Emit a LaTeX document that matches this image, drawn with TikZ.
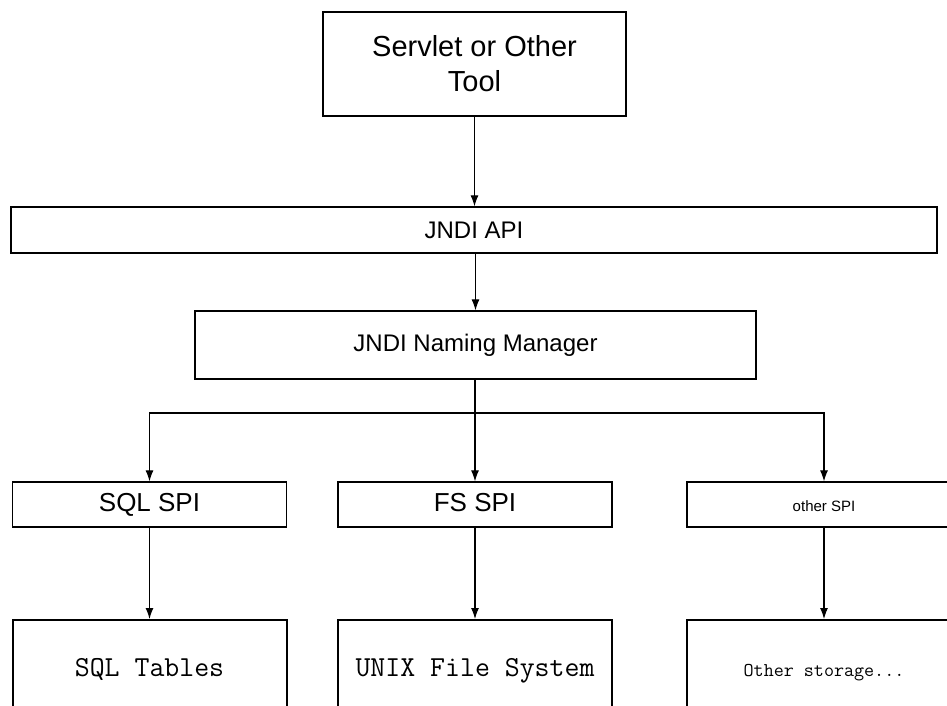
\documentclass[tikz,border=0pt]{standalone}
\usepackage{fontspec}
\setmainfont{Liberation Sans}
\usetikzlibrary{arrows.meta}
\tikzset{
    toolbox/.style={draw, line width=2.6pt, minimum width=303pt, minimum height=104pt,
            align=center, font=\fontsize{29}{35}\selectfont},
    layerbox/.style={draw, line width=1.3pt, font=\fontsize{24}{28}\selectfont},
    spibox/.style={draw, line width=1.3pt, minimum width=274pt, minimum height=45pt,
            text height=18pt, text depth=5pt, font=\fontsize{26}{30}\selectfont},
    storebox/.style={draw, line width=2pt, minimum width=274pt, minimum height=130pt,
            anchor=north, text height=15pt, text depth=33pt,
            font=\ttfamily\fontsize{29}{32}\selectfont},
    link/.style={line width=1.1pt, -{Latex[length=11pt,width=8pt]}}
}

\begin{document}
\begin{tikzpicture}[x=1pt, y=-1pt]
            \useasboundingbox (0, 0) rectangle (947, 705);
            \clip (0, 0) rectangle (947, 705);
            % top level and the two JNDI layers
            \node[toolbox] (tool) at (474.5, 64) {Servlet or Other\\Tool};
            \node[layerbox, minimum width=926pt, minimum height=46pt] (api) at (474, 230) {JNDI API};
            \node[layerbox, minimum width=561pt, minimum height=68pt] (mgr) at (475.5, 345) {JNDI Naming Manager};
            % service providers
            \node[spibox] (sqlspi) at (149.5, 504.5) {SQL SPI};
            \node[spibox] (fsspi) at (475, 504.5) {FS SPI};
            \node[spibox, font=\fontsize{15}{18}\selectfont] (otherspi) at (824, 504.5) {other SPI};
            % storage, cut off at the bottom
            \node[storebox] (sqltab) at (149.5, 619) {SQL Tables};
            \node[storebox] (unixfs) at (475, 619) {UNIX File System};
            \node[storebox, font=\ttfamily\fontsize{19.5}{22}\selectfont] (otherstore) at (824, 619) {Other storage...};
            % connectors
            \draw[link] (tool.south) -- (tool.south |- api.north);
            \draw[link] (api.south -| mgr.north) -- (mgr.north);
            \coordinate (fork) at (475, 413);
            \draw[line width=1.1pt] (mgr.south -| fork) -- (fork);
            \draw[link] (fork) -| (sqlspi.north);
            \draw[link] (fork) -- (fsspi.north);
            \draw[link] (fork) -| (otherspi.north);
            \draw[link] (sqlspi.south) -- (sqltab.north);
            \draw[link] (fsspi.south) -- (unixfs.north);
            \draw[link] (otherspi.south) -- (otherstore.north);
\end{tikzpicture}
\end{document}
